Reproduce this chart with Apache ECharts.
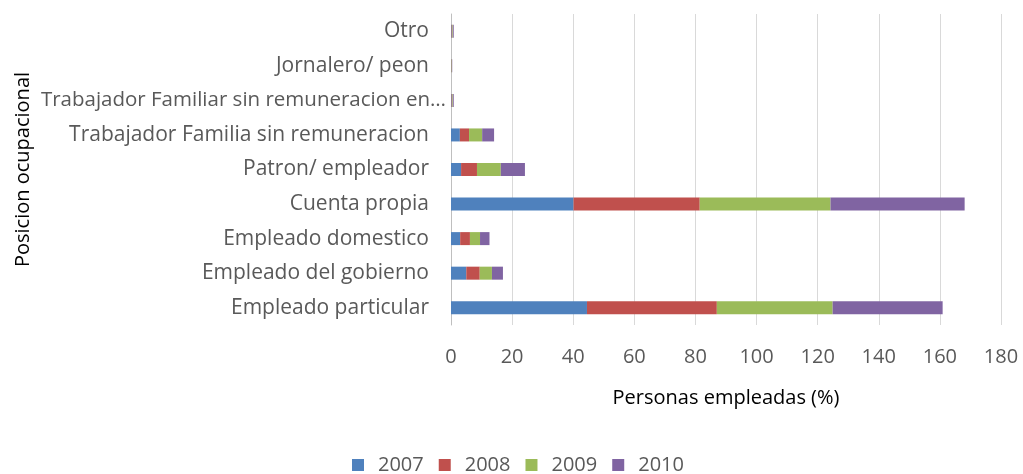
<!DOCTYPE html>
<html>
<head>
<meta charset="utf-8">
<script src="https://cdn.jsdelivr.net/npm/echarts@6/dist/echarts.min.js"></script>
<style>html,body{margin:0;padding:0;background:#fff}#c{width:1023px;height:474px}</style>
</head>
<body>
<div id="c"></div>
<script>
const categories = ["Empleado particular","Empleado del gobierno","Empleado domestico","Cuenta propia","Patron/ empleador","Trabajador Familia sin remuneracion","Trabajador Familiar sin remuneracion en…","Jornalero/ peon","Otro"];
const years = ["2007","2008","2009","2010"];
const v2007 = [44.5, 5.0, 3.0, 40.1, 3.3, 2.9, 0.2, 0.1, 0.2];
const v2008 = [42.5, 4.4, 3.2, 41.3, 5.2, 3.0, 0.2, 0.1, 0.2];
const v2009 = [37.9, 4.0, 3.3, 42.8, 7.8, 4.3, 0.2, 0.1, 0.2];
const v2010 = [36.0, 3.6, 3.1, 43.9, 7.9, 3.9, 0.3, 0.1, 0.3];
const colors = ["#4f81bd","#c0504d","#9bbb59","#8064a2"];
const xTicks = {min:0, max:180, interval:20};

const chart = echarts.init(document.getElementById('c'), null, {renderer:'canvas'});
const font = "'Open Sans', sans-serif";
const vals = [v2007, v2008, v2009, v2010];
chart.setOption({
  animation:false,
  textStyle:{fontFamily:font},
  grid:{left:451, right:22, top:14, bottom:149, containLabel:false, outerBoundsMode:'none'},
  legend:{top:450, left:347, itemWidth:12, itemHeight:12, itemGap:15, icon:'rect',
    textStyle:{fontSize:20, color:'#595959', fontFamily:font, padding:[0,0,0,9]}, data:years},
  xAxis:{type:'value', min:xTicks.min, max:xTicks.max, interval:xTicks.interval,
    name:'Personas empleadas (%)', nameLocation:'middle', nameGap:63,
    nameTextStyle:{fontSize:20, color:'#000', fontFamily:font},
    axisLabel:{fontSize:20, color:'#595959', margin:22, fontFamily:font},
    axisLine:{show:false}, axisTick:{show:false},
    splitLine:{lineStyle:{color:'#d9d9d9', width:1}}},
  yAxis:{type:'category', data:categories,
    name:'Posicion ocupacional', nameLocation:'middle', nameGap:418, nameRotate:90,
    nameMoveOverlap:false,
    nameTextStyle:{fontSize:20, color:'#000', fontFamily:font},
    axisLabel:{fontSize:21, color:'#595959', margin:22, fontFamily:font,
      formatter:(v)=> v.length > 38 ? '{w|' + v + '}' : v,
      rich:{w:{fontSize:20.5, color:'#595959', fontFamily:font, padding:[0,-17,0,0]}}},
    axisLine:{show:true, lineStyle:{color:'#bfbfbf'}}, axisTick:{show:false}},
  series: years.map((y,i)=>({name:y, type:'bar', stack:'t', data:vals[i], barWidth:13,
    itemStyle:{color:colors[i]}}))
});
</script>
</body>
</html>
